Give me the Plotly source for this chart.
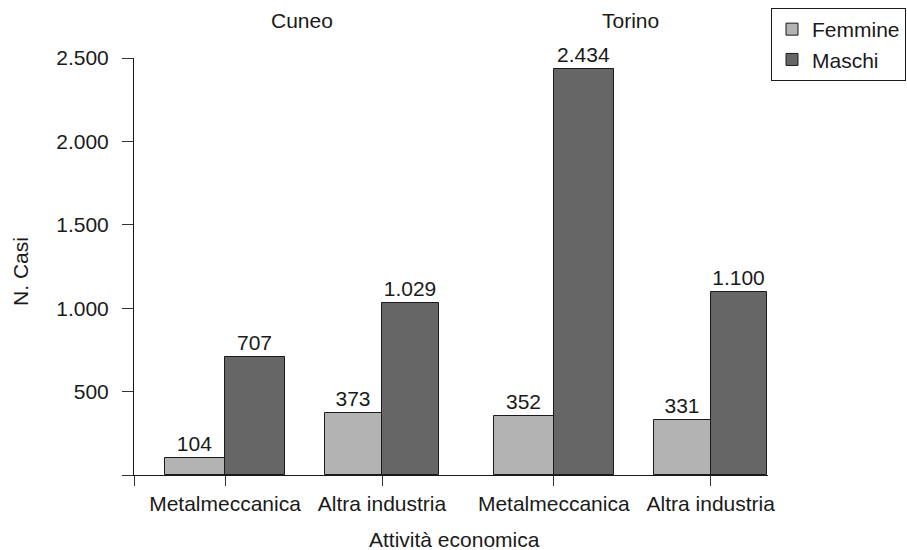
import plotly.graph_objects as go

# ---- data ----
cities = ["Cuneo", "Cuneo", "Torino", "Torino"]
categories = ["Metalmeccanica", "Altra industria", "Metalmeccanica", "Altra industria"]
femmine = [104, 373, 352, 331]
maschi = [707, 1029, 2434, 1100]
y_ticks = [0, 500, 1000, 1500, 2000, 2500]
y_ticktext = ["", "500", "1.000", "1.500", "2.000", "2.500"]

# ---- layout helpers ----
CITY_GAP = 0.094
city_order = ["Cuneo", "Torino"]
xpos = [i + CITY_GAP * city_order.index(c) for i, c in enumerate(cities)]
widths = [0.383 if c == "Metalmeccanica" else 0.36 for c in categories]
X_RANGE = [-0.5796, 3.4586]

FONT = "Liberation Sans, Arial, Helvetica, sans-serif"
FS = 21
TXT = "#1a1a1a"

fig = go.Figure()
fig.add_trace(go.Bar(
    name="Femmine", x=xpos, y=femmine, width=widths,
    offset=[-w for w in widths],
    marker=dict(color="#b3b3b3", line=dict(color="#1a1a1a", width=1)),
    texttemplate="%{y:,}", textposition="outside", cliponaxis=False,
    textfont=dict(size=FS, color=TXT, family=FONT),
))
fig.add_trace(go.Bar(
    name="Maschi", x=xpos, y=maschi, width=widths,
    offset=[0] * len(widths),
    marker=dict(color="#666666", line=dict(color="#1a1a1a", width=1)),
    texttemplate="%{y:,}", textposition="outside", cliponaxis=False,
    textfont=dict(size=FS, color=TXT, family=FONT),
))

# city labels
for city in city_order:
    idx = [i for i, c in enumerate(cities) if c == city]
    left = min(xpos[i] - widths[i] for i in idx)
    right = max(xpos[i] + widths[i] for i in idx)
    fig.add_annotation(x=(left + right) / 2, y=1.0911, xref="x", yref="paper",
                       text=city, showarrow=False, xanchor="center", yanchor="middle",
                       font=dict(size=FS, color=TXT, family=FONT))

fig.add_annotation(x=(21 - 134) / 634, y=0.487, xref="paper", yref="paper", text="N. Casi",
                   textangle=-90, showarrow=False, xanchor="center", yanchor="middle",
                   font=dict(size=FS, color=TXT, family=FONT))
fig.add_annotation(x=0.506, y=(475 - 539) / 417, xref="paper", yref="paper",
                   text="Attività economica", showarrow=False,
                   xanchor="center", yanchor="middle",
                   font=dict(size=FS, color=TXT, family=FONT))

fig.update_layout(
    width=907, height=550,
    margin=dict(l=134, r=139, t=58, b=75, autoexpand=False),
    paper_bgcolor="white", plot_bgcolor="white",
    barmode="overlay", bargap=0,
    separators=",.",
    font=dict(family=FONT, size=FS, color=TXT),
    showlegend=True,
    legend=dict(x=(906 - 134) / 634, xanchor="right", y=1 + 50 / 417, yanchor="top",
                bordercolor="#1a1a1a", borderwidth=1, bgcolor="white",
                font=dict(size=FS, color=TXT, family=FONT),
                tracegroupgap=0, itemclick=False),
    xaxis=dict(range=X_RANGE, tickmode="array",
               tickvals=[X_RANGE[0] + 0.0005] + xpos,
               ticktext=[""] + categories,
               ticks="outside", ticklen=10, tickcolor="#333333", tickwidth=1,
               showline=True, linecolor="#1a1a1a", linewidth=1,
               showgrid=False, zeroline=False, fixedrange=True, automargin=False,
               tickfont=dict(size=FS, color=TXT, family=FONT)),
    yaxis=dict(range=[0, 2500], tickmode="array", tickvals=y_ticks,
               ticktext=y_ticktext,
               ticks="outside", ticklen=11, tickcolor="#333333", tickwidth=1,
               showline=True, linecolor="#1a1a1a", linewidth=1,
               showgrid=False, zeroline=False, fixedrange=True, automargin=False,
               ticklabelstandoff=9,
               tickfont=dict(size=FS, color=TXT, family=FONT)),
)

fig.write_html("out.html", config={"displayModeBar": False},
               post_script="document.body.style.margin='0';document.body.style.overflow='hidden';")
